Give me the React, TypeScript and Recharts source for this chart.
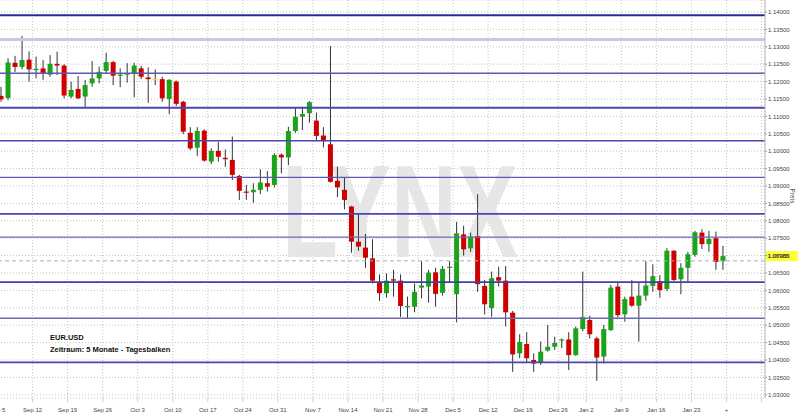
import React from 'react';
import {
  ComposedChart,
  Bar,
  XAxis,
  YAxis,
  CartesianGrid,
  ReferenceLine,
  Customized,
} from 'recharts';

// Daily candles EUR/USD, Sep 5 2016 .. Jan 27 2017 (index 0 = Sep 5)
const openPrices = [
  1.1159, 1.1153, 1.1254, 1.1242, 1.1263, 1.1233, 1.1238, 1.1220, 1.1251, 1.1246,
  1.1157, 1.1179, 1.1157, 1.1195, 1.1209, 1.1231, 1.1256, 1.1217, 1.1220, 1.1224,
  1.1238, 1.1212, 1.1208, 1.1207, 1.1150, 1.1200, 1.1142, 1.1053, 1.1010, 1.1059,
  1.0970, 1.1001, 1.0981, 1.0975, 1.0929, 1.0884, 1.0882, 1.0889, 1.0908, 1.0903,
  1.0990, 1.0982, 1.1058, 1.1099, 1.1109, 1.1088, 1.1045, 1.1020, 1.0915, 1.0889,
  1.0841, 1.0740, 1.0723, 1.0692, 1.0623, 1.0592, 1.0632, 1.0628, 1.0552, 1.0553,
  1.0608, 1.0611, 1.0652, 1.0593, 1.0665, 1.0589, 1.0761, 1.0721, 1.0756, 1.0613,
  1.0549, 1.0638, 1.0628, 1.0536, 1.0419, 1.0446, 1.0400, 1.0392, 1.0427, 1.0438,
  1.0457, 1.0459, 1.0414, 1.0489, 1.0515, 1.0462, 1.0410, 1.0486, 1.0611, 1.0531,
  1.0582, 1.0556, 1.0585, 1.0613, 1.0627, 1.0604, 1.0714, 1.0632, 1.0665, 1.0702,
  1.0766, 1.0733, 1.0750, 1.0684,
];
const highPrices = [
  1.1185, 1.1267, 1.1274, 1.1331, 1.1287, 1.1272, 1.1262, 1.1276, 1.1286, 1.1250,
  1.1200, 1.1216, 1.1205, 1.1259, 1.1243, 1.1283, 1.1260, 1.1238, 1.1253, 1.1254,
  1.1245, 1.1241, 1.1235, 1.1214, 1.1207, 1.1203, 1.1145, 1.1069, 1.1069, 1.1063,
  1.1008, 1.1027, 1.1005, 1.1042, 1.0932, 1.0903, 1.0908, 1.0948, 1.0943, 1.0994,
  1.0994, 1.1070, 1.1125, 1.1128, 1.1144, 1.1111, 1.1069, 1.1302, 1.0955, 1.0925,
  1.0843, 1.0822, 1.0762, 1.0747, 1.0646, 1.0649, 1.0659, 1.0646, 1.0582, 1.0620,
  1.0684, 1.0659, 1.0665, 1.0670, 1.0684, 1.0797, 1.0786, 1.0766, 1.0876, 1.0630,
  1.0654, 1.0668, 1.0670, 1.0541, 1.0474, 1.0480, 1.0419, 1.0453, 1.0501, 1.0467,
  1.0462, 1.0480, 1.0496, 1.0654, 1.0527, 1.0467, 1.0501, 1.0616, 1.0623, 1.0582,
  1.0630, 1.0623, 1.0684, 1.0675, 1.0644, 1.0721, 1.0716, 1.0678, 1.0711, 1.0771,
  1.0776, 1.0771, 1.0769, 1.0728,
];
const lowPrices = [
  1.1142, 1.1147, 1.1228, 1.1235, 1.1200, 1.1209, 1.1205, 1.1214, 1.1219, 1.1152,
  1.1152, 1.1150, 1.1126, 1.1185, 1.1195, 1.1224, 1.1190, 1.1184, 1.1197, 1.1155,
  1.1207, 1.1139, 1.1190, 1.1142, 1.1106, 1.1130, 1.1049, 1.1003, 1.0986, 1.0970,
  1.0963, 1.0970, 1.0955, 1.0917, 1.0860, 1.0860, 1.0852, 1.0877, 1.0884, 1.0896,
  1.0936, 1.0960, 1.1053, 1.1061, 1.1082, 1.1029, 1.1011, 1.0910, 1.0868, 1.0833,
  1.0708, 1.0714, 1.0665, 1.0620, 1.0570, 1.0579, 1.0582, 1.0524, 1.0520, 1.0537,
  1.0577, 1.0565, 1.0553, 1.0585, 1.0623, 1.0508, 1.0700, 1.0711, 1.0596, 1.0531,
  1.0524, 1.0611, 1.0496, 1.0366, 1.0405, 1.0393, 1.0366, 1.0386, 1.0424, 1.0429,
  1.0434, 1.0371, 1.0412, 1.0483, 1.0462, 1.0340, 1.0390, 1.0483, 1.0522, 1.0510,
  1.0553, 1.0453, 1.0570, 1.0596, 1.0579, 1.0598, 1.0627, 1.0589, 1.0625, 1.0697,
  1.0719, 1.0711, 1.0659, 1.0659,
];
const closePrices = [
  1.1149, 1.1255, 1.1242, 1.1262, 1.1235, 1.1237, 1.1223, 1.1251, 1.1246, 1.1160,
  1.1176, 1.1152, 1.1190, 1.1209, 1.1228, 1.1256, 1.1217, 1.1220, 1.1224, 1.1246,
  1.1214, 1.1207, 1.1208, 1.1152, 1.1205, 1.1136, 1.1056, 1.1008, 1.1058, 1.0973,
  1.1001, 1.0984, 1.0977, 1.0932, 1.0886, 1.0881, 1.0889, 1.0910, 1.0898, 1.0989,
  1.0982, 1.1058, 1.1099, 1.1107, 1.1141, 1.1044, 1.1029, 1.0912, 1.0896, 1.0860,
  1.0740, 1.0726, 1.0694, 1.0628, 1.0592, 1.0628, 1.0628, 1.0555, 1.0555, 1.0596,
  1.0614, 1.0651, 1.0590, 1.0662, 1.0668, 1.0764, 1.0718, 1.0754, 1.0618, 1.0560,
  1.0635, 1.0628, 1.0537, 1.0416, 1.0452, 1.0405, 1.0390, 1.0424, 1.0438, 1.0449,
  1.0459, 1.0414, 1.0491, 1.0524, 1.0474, 1.0407, 1.0489, 1.0608, 1.0529, 1.0575,
  1.0556, 1.0585, 1.0614, 1.0641, 1.0601, 1.0714, 1.0630, 1.0665, 1.0704, 1.0767,
  1.0733, 1.0748, 1.0682, 1.06985,
];

// week starts (candle index of each Monday) and their labels
const weekStarts = [0, 5, 10, 15, 20, 25, 30, 35, 40, 45, 50, 55, 60, 65, 70, 75, 80, 84, 89, 94, 99, 104, 109];
const weekLabels = [
  'Sep 5', 'Sep 12', 'Sep 19', 'Sep 26', 'Oct 3', 'Oct 10', 'Oct 17', 'Oct 24', 'Oct 31',
  'Nov 7', 'Nov 14', 'Nov 21', 'Nov 28', 'Dec 5', 'Dec 12', 'Dec 19', 'Dec 26', 'Jan 2',
  'Jan 9', 'Jan 16', 'Jan 23', '+', '',
];

const priceTicks = [
  1.03, 1.035, 1.04, 1.045, 1.05, 1.055, 1.06, 1.065, 1.07, 1.075, 1.08, 1.085,
  1.09, 1.095, 1.1, 1.105, 1.11, 1.115, 1.12, 1.125, 1.13, 1.135, 1.14,
];

// horizontal support / resistance levels
const levelLines = [1.1391, 1.1321, 1.1224, 1.1125, 1.103, 1.0925, 1.082, 1.0753, 1.0624, 1.052, 1.0393];
const levelWidths = [2, 3, 1.3, 2, 1.6, 1.3, 1.6, 1.3, 1.8, 1.3, 1.8];
const levelColors = ['#2a2a9a', '#c8c8e6', '#5a5aae', '#4848b0', '#4848b0', '#5a5aae', '#4848b0', '#6a6ab4', '#4040a8', '#6a6ab4', '#4848b0'];

const lastPrice = 1.06985;
const dashedPrice = 1.0685;

const GREEN = '#1ca31c';
const RED = '#d10000';
const DOJI = '#e8e020';

const data = openPrices.map((o, i) => ({
  i,
  o,
  h: highPrices[i],
  l: lowPrices[i],
  c: closePrices[i],
  range: [lowPrices[i], highPrices[i]],
}));

const Candle = (props: any) => {
  const { x, y, width, height, payload } = props;
  if (x == null || y == null || !payload) return null;
  const { o, h, l, c } = payload;
  const top = Math.min(y, y + height);
  const span = Math.abs(height);
  const k = h > l ? span / (h - l) : 0;
  const py = (v: number) => top + (h - v) * k;
  const cx = x + width / 2;
  const bTop = py(Math.max(o, c));
  const bBot = py(Math.min(o, c));
  const fill = c > o ? GREEN : c < o ? RED : DOJI;
  return (
    <g>
      <line x1={cx} x2={cx} y1={top} y2={top + span} stroke="#333" strokeWidth={1} />
      <rect x={cx - width / 2} y={bTop} width={width} height={Math.max(bBot - bTop, 1.2)} fill={fill} />
    </g>
  );
};

const PriceTag = (props: any) => {
  const { viewBox } = props;
  if (!viewBox) return null;
  const x = viewBox.x + viewBox.width;
  const y = viewBox.y;
  return (
    <g>
      <rect x={x + 1} y={y - 5} width={32} height={10} fill="#ffff33" />
      <text x={x + 2.5} y={y + 2.2} fontSize={6} fill="#222" fontFamily="Liberation Sans, Arial, sans-serif">
        {lastPrice.toFixed(5)}
      </text>
    </g>
  );
};

const Watermark = () => (
  <text
    x={302}
    y={257}
    fontSize={132}
    fontWeight="bold"
    fill="#e6e6e6"
    fontFamily="Liberation Sans, Arial, sans-serif"
    textLength={236}
    lengthAdjust="spacingAndGlyphs"
  >
    LYNX
  </text>
);

const Captions = () => (
  <g fontFamily="Liberation Sans, Arial, sans-serif" fontWeight="bold" fontSize={7.5} fill="#111">
    <text x={70} y={340}>EUR.USD</text>
    <text x={70} y={351.5}>Zeitraum: 5 Monate - Tagesbalken</text>
    <text
      x={0}
      y={0}
      transform="translate(810,196) rotate(90)"
      textAnchor="middle"
      fontWeight="normal"
      fontSize={6.5}
      fill="#555"
    >
      Preis
    </text>
  </g>
);

const vMax = 1.14 + 12 / 3480;
const vMin = 1.14 - 386 / 3480;

export default function App() {
  return (
    <div style={{ position: 'absolute', left: -20, top: 0, width: 820, height: 417, background: '#fff' }}>
      <ComposedChart width={820} height={417} data={data} margin={{ top: 0, right: 0, bottom: 0, left: 0 }}>
        <Customized component={<Watermark />} />
        <CartesianGrid stroke="#c4c4c4" strokeDasharray="1 2" />
        <XAxis
          type="number"
          dataKey="i"
          domain={[-3, 109]}
          allowDataOverflow
          ticks={weekStarts.map((s) => s - 0.5)}
          interval={0}
          tickFormatter={(v: number) => weekLabels[weekStarts.indexOf(Math.round(v + 0.5))] ?? ''}
          height={19}
          tickSize={4}
          tickMargin={6}
          tick={{ fontSize: 6, fill: '#444', fontFamily: 'Liberation Sans, Arial, sans-serif' }}
          tickLine={{ stroke: '#ccc' }}
          axisLine={false}
        />
        <YAxis
          orientation="right"
          type="number"
          domain={[vMin, vMax]}
          allowDataOverflow
          ticks={priceTicks}
          interval={0}
          width={35}
          tickFormatter={(v: number) => v.toFixed(5)}
          tickSize={2}
          tickMargin={1}
          tick={{ fontSize: 6, fill: '#444', fontFamily: 'Liberation Sans, Arial, sans-serif' }}
          tickLine={{ stroke: '#999' }}
          axisLine={{ stroke: '#bbb' }}
        />
        {levelLines.map((v, k) => (
          <ReferenceLine key={k} y={v} stroke={levelColors[k]} strokeWidth={levelWidths[k]} ifOverflow="hidden" />
        ))}
        <ReferenceLine y={dashedPrice} stroke="#b0b0b0" strokeDasharray="4 3" />
        <ReferenceLine y={lastPrice} stroke="none" label={<PriceTag />} />
        <Bar dataKey="range" barSize={5} shape={<Candle />} isAnimationActive={false} />
        <Customized component={<Captions />} />
      </ComposedChart>
    </div>
  );
}
